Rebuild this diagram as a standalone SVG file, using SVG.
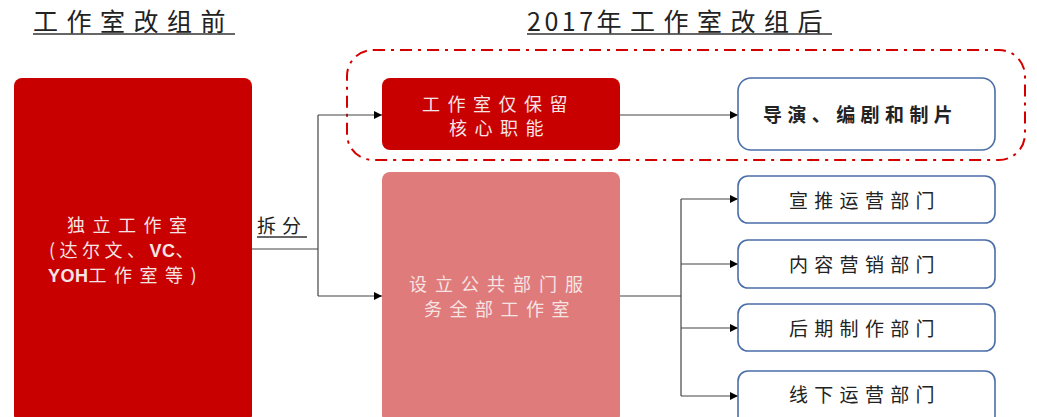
<svg xmlns="http://www.w3.org/2000/svg" width="1037" height="417" viewBox="0 0 1037 417">
<defs>
<marker id="arr" viewBox="0 0 10 10" refX="10" refY="5" markerWidth="10" markerHeight="8" markerUnits="userSpaceOnUse" orient="auto">
<path d="M0,0 L10,5 L0,10 z" fill="#000"/>
</marker>
<style>
.t{font-family:"Noto Sans CJK SC","Liberation Sans",sans-serif;}
.title{font-size:25px;fill:#222;letter-spacing:8.5px;}
.w{font-size:18px;fill:#f6e4e4;letter-spacing:7.5px;}
.b{font-size:19px;fill:#222;letter-spacing:6.3px;}
.lat{font-family:"Liberation Sans",sans-serif;font-weight:bold;letter-spacing:0.5px;}
.ul{stroke:#333;stroke-width:1.5;}
.conn{fill:none;stroke:#444;stroke-width:1.2;}
.dept{fill:#fff;stroke:#4a6ea8;stroke-width:1.6;}
</style>
</defs>
<rect width="1037" height="417" fill="#fff"/>
<g id="title-before">
<text class="t title" x="33" y="31">工作室改组前</text>
<line class="ul" x1="33" y1="34" x2="235" y2="34"/>
</g>
<g id="title-after">
<text class="t title" x="527" y="31"><tspan style="letter-spacing:3.5px">2017</tspan>年工作室改组后</text>
<line class="ul" x1="527" y1="34" x2="832" y2="34"/>
</g>
<g id="core-group"><rect x="347" y="50" width="678" height="110" rx="26" fill="none" stroke="#d40000" stroke-width="2" stroke-dasharray="12,6,3,6"/></g>
<g id="connectors">
<polyline class="conn" points="252,249 318,249"/>
<polyline class="conn" points="318,115 318,296"/>
<line class="conn" x1="318" y1="115" x2="382" y2="115" marker-end="url(#arr)"/>
<line class="conn" x1="318" y1="296" x2="382" y2="296" marker-end="url(#arr)"/>
<line class="conn" x1="620" y1="115" x2="738" y2="115" marker-end="url(#arr)"/>
<polyline class="conn" points="620,296 681,296"/>
<polyline class="conn" points="681,199 681,396"/>
<line class="conn" x1="681" y1="199" x2="738" y2="199" marker-end="url(#arr)"/>
<line class="conn" x1="681" y1="264" x2="738" y2="264" marker-end="url(#arr)"/>
<line class="conn" x1="681" y1="328" x2="738" y2="328" marker-end="url(#arr)"/>
<line class="conn" x1="681" y1="396" x2="738" y2="396" marker-end="url(#arr)"/>
<text class="t" x="257" y="233" font-size="19" fill="#222" letter-spacing="6">拆分</text>
<line class="ul" x1="257" y1="237" x2="307" y2="237"/>
</g>
<g id="independent">
<rect x="14" y="78" width="238" height="345" rx="8" fill="#c80000"/>
<text class="t w" x="67" y="232">独立工作室</text>
<text class="t w" x="49" y="257" style="letter-spacing:4.5px">(达尔文、<tspan class="lat">VC</tspan>、</text>
<text class="t w" x="48" y="282"><tspan class="lat">YOH</tspan>工作室等)</text>
</g>
<g id="core">
<rect x="382" y="78" width="238" height="72" rx="8" fill="#c80000"/>
<text class="t w" x="422" y="111">工作室仅保留</text>
<text class="t w" x="449" y="135">核心职能</text>
</g>
<g id="creative">
<rect class="dept" x="738" y="78" width="257" height="72" rx="13"/>
<text class="t b" x="763" y="122" font-size="20" font-weight="bold" style="letter-spacing:5.4px">导演、编剧和制片</text>
</g>
<g id="public">
<rect x="382" y="172" width="238" height="251" rx="8" fill="#e07b7b"/>
<text class="t w" x="409" y="291" style="letter-spacing:8px">设立公共部门服</text>
<text class="t w" x="424" y="316">务全部工作室</text>
</g>
<g id="promo">
<rect class="dept" x="738" y="176" width="257" height="47" rx="10"/>
<text class="t b" x="789" y="208">宣推运营部门</text>
</g>
<g id="content">
<rect class="dept" x="738" y="240" width="257" height="48" rx="10"/>
<text class="t b" x="789" y="272">内容营销部门</text>
</g>
<g id="post">
<rect class="dept" x="738" y="304" width="257" height="47" rx="10"/>
<text class="t b" x="789" y="336">后期制作部门</text>
</g>
<g id="offline">
<rect class="dept" x="738" y="371" width="257" height="55" rx="10"/>
<text class="t b" x="789" y="402">线下运营部门</text>
</g>
</svg>
